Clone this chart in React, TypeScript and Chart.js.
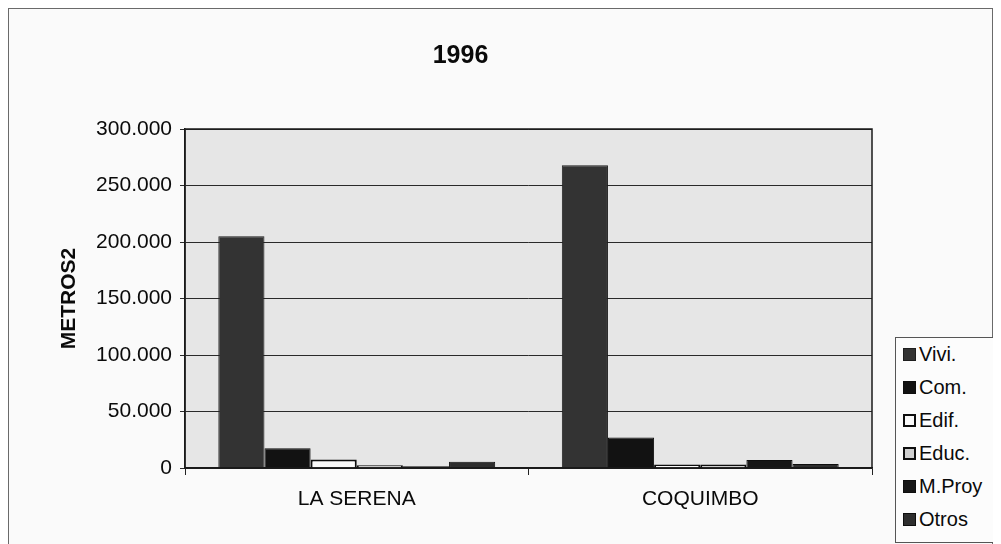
import React, { useEffect, useRef } from "react";
import { Chart, registerables } from "chart.js";

Chart.register(...registerables);

const categories = ["LA SERENA", "COQUIMBO"];
const seriesNames = ["Vivi.", "Com.", "Edif.", "Educ.", "M.Proy", "Otros"];
const vivi = [205000, 268000];
const com = [17500, 27000];
const edif = [7500, 3000];
const educ = [2500, 3000];
const mproy = [1500, 7000];
const otros = [5500, 3500];
const yMin = 0;
const yMax = 300000;
const yStep = 50000;
const chartTitle = "1996";
const yAxisTitle = "METROS2";

const seriesValues = [vivi, com, edif, educ, mproy, otros];
const fills = ["#333333", "#121212", "#fafafa", "#cfcfcf", "#161616", "#2e2e2e"];
const borders = ["#1e1e1e", "#0e0e0e", "#0e0e0e", "#0e0e0e", "#0e0e0e", "#0e0e0e"];
const borderWidths = [1, 1, 2, 2, 1, 1];

const FONT = "'Liberation Sans', Arial, sans-serif";
const TEXT = "#0a0a0a";

const fmt = (v: number) => String(v).replace(/\B(?=(\d{3})+(?!\d))/g, ".");

const plotFrame = {
  id: "plotFrame",
  beforeDraw(chart: any) {
    const { ctx, chartArea } = chart;
    if (!chartArea) return;
    ctx.save();
    ctx.fillStyle = "#e6e6e6";
    ctx.fillRect(chartArea.left, chartArea.top, chartArea.right - chartArea.left, chartArea.bottom - chartArea.top);
    ctx.restore();
  },
  afterDraw(chart: any) {
    const { ctx, chartArea } = chart;
    ctx.save();
    ctx.strokeStyle = "#1a1a1a";
    ctx.lineWidth = 1.5;
    ctx.strokeRect(chartArea.left, chartArea.top, chartArea.right - chartArea.left, chartArea.bottom - chartArea.top);
    ctx.restore();
  },
};

export default function App() {
  const ref = useRef<HTMLCanvasElement | null>(null);

  useEffect(() => {
    document.documentElement.style.overflow = "hidden";
    document.body.style.overflow = "hidden";
    const canvas = ref.current;
    if (!canvas) return;
    const chart = new Chart(canvas, {
      type: "bar",
      data: {
        labels: categories,
        datasets: seriesNames.map((name, i) => ({
          label: name,
          data: seriesValues[i],
          backgroundColor: fills[i],
          borderColor: borders[i],
          borderWidth: borderWidths[i],
          categoryPercentage: 0.806,
          barPercentage: 1.0,
        })),
      },
      options: {
        animation: false,
        responsive: false,
        devicePixelRatio: 1,
        layout: { padding: { left: 40, right: 120, top: 0, bottom: 32 } },
        plugins: {
          legend: { display: false },
          tooltip: { enabled: false },
          title: {
            display: true,
            text: chartTitle,
            color: TEXT,
            font: { family: FONT, size: 25, weight: "bold" },
            padding: { top: 32, bottom: 58 },
          },
        },
        scales: {
          x: {
            grid: {
              display: true,
              drawOnChartArea: false,
              drawTicks: true,
              tickLength: 7,
              color: "#222",
              offset: true,
            },
            border: { display: true, color: "#1a1a1a", width: 1.5 },
            ticks: {
              color: TEXT,
              font: { family: FONT, size: 21 },
              padding: 12,
            },
            afterFit: (s: any) => {
              s.height = 44;
            },
          },
          y: {
            min: yMin,
            max: yMax,
            ticks: {
              stepSize: yStep,
              color: TEXT,
              font: { family: FONT, size: 21 },
              padding: 8,
              callback: (v: any) => fmt(Number(v)),
            },
            grid: { color: "#2a2a2a", lineWidth: 1, tickLength: 5 },
            border: { display: true, color: "#1a1a1a", width: 1.5 },
            title: {
              display: true,
              text: yAxisTitle,
              color: TEXT,
              font: { family: FONT, size: 21, weight: "bold" },
              padding: { top: 8, bottom: 0 },
            },
            afterFit: (s: any) => {
              s.width = 136;
            },
          },
        },
      },
      plugins: [plotFrame],
    });
    return () => chart.destroy();
  }, []);

  return (
    <div
      style={{
        position: "relative",
        width: 985,
        height: 536,
        boxSizing: "border-box",
        borderTop: "1px solid #6a6a6a",
        borderLeft: "1px solid #6a6a6a",
        borderRight: "1px solid #6a6a6a",
        background: "#fafafa",
        fontFamily: FONT,
      }}
    >
      <canvas ref={ref} width={983} height={535} style={{ position: "absolute", left: 0, top: 0 }} />
      <div
        style={{
          position: "absolute",
          left: 886,
          top: 328,
          width: 99,
          height: 206,
          boxSizing: "border-box",
          border: "1px solid #555",
          background: "#fcfcfc",
        }}
      >
        {seriesNames.map((name, i) => (
          <div
            key={name}
            style={{
              position: "absolute",
              left: 7,
              top: 16 + i * 33 - 12,
              height: 24,
              display: "flex",
              alignItems: "center",
              whiteSpace: "nowrap",
            }}
          >
            <span
              style={{
                display: "inline-block",
                width: 13,
                height: 13,
                boxSizing: "border-box",
                background: fills[i],
                border: `${borderWidths[i] > 1 ? 2 : 1}px solid ${borders[i]}`,
                marginRight: 3,
              }}
            />
            <span style={{ fontSize: 20, color: TEXT, lineHeight: "24px" }}>{name}</span>
          </div>
        ))}
      </div>
    </div>
  );
}
